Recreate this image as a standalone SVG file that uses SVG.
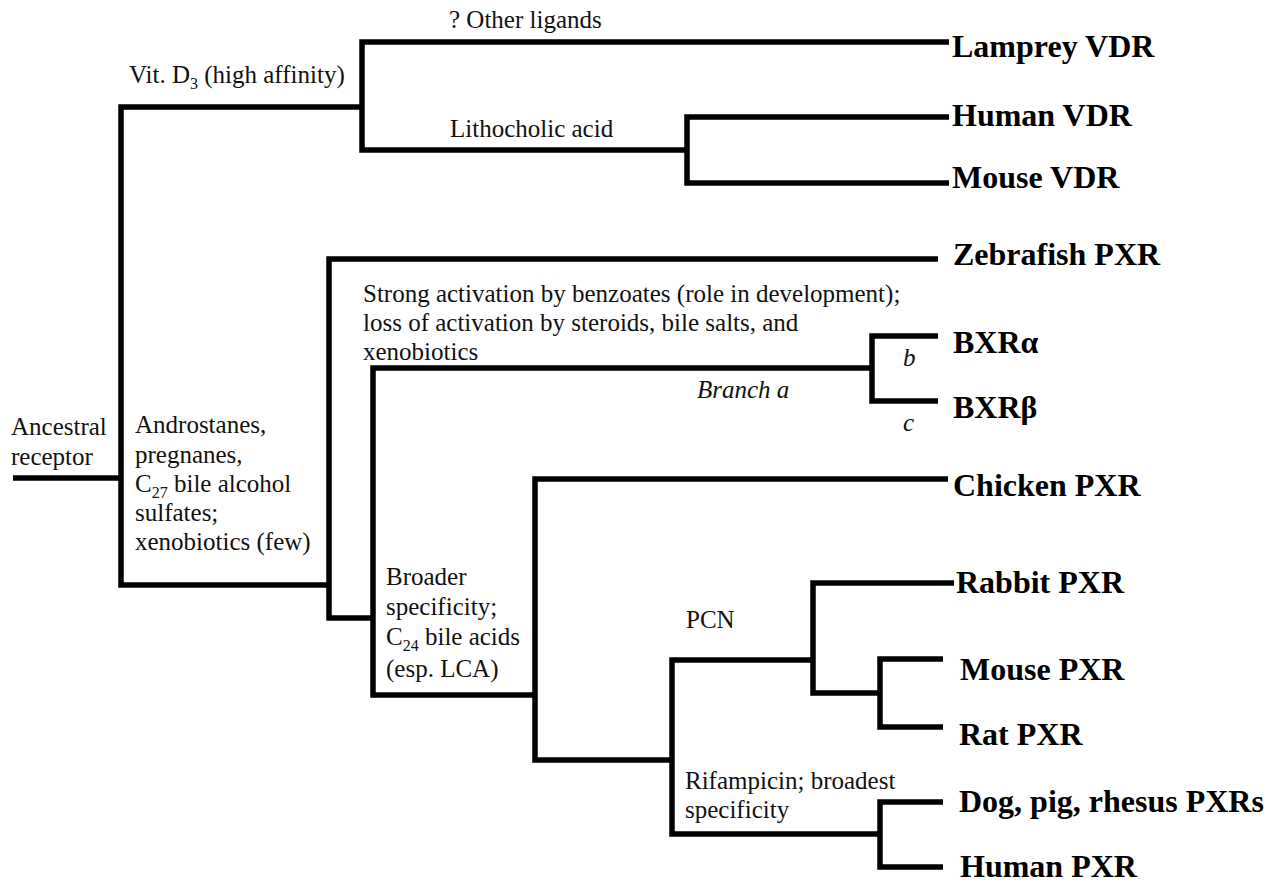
<svg xmlns="http://www.w3.org/2000/svg" width="1286" height="884" viewBox="0 0 1286 884">
<style>
  .ln { fill: none; stroke: #000; stroke-width: 5.5; stroke-linejoin: miter; stroke-linecap: butt; }
  .t { font-family: "Liberation Serif", "Times New Roman", serif; font-size: 25px; fill: #111; }
  .i { font-style: italic; }
  .lb { font-family: "Liberation Serif", "Times New Roman", serif; font-size: 32px; font-weight: bold; fill: #000; }
  .sub { font-size: 16px; }
</style>
<rect width="1286" height="884" fill="#fff"/>
<g id="connectors">
  <path class="ln" d="M13 478 H121"/>
  <path class="ln" d="M362 107 H121 V585 H329"/>
  <path class="ln" d="M949 42 H362 V150 H687"/>
  <path class="ln" d="M949 117 H687 V183 H949"/>
  <path class="ln" d="M938 259 H329 V618 H373"/>
  <path class="ln" d="M872 368 H373 V695 H535"/>
  <path class="ln" d="M938 336 H872 V401 H938"/>
  <path class="ln" d="M948 479 H535 V760 H672"/>
  <path class="ln" d="M813 660 H672 V834 H880"/>
  <path class="ln" d="M954 583 H813 V693 H880"/>
  <path class="ln" d="M943 659 H880 V727 H943"/>
  <path class="ln" d="M943 802 H880 V867 H943"/>
</g>
<g id="branch-labels">
  <text class="t" x="449" y="28">? Other ligands</text>
  <text class="t" x="129" y="83">Vit. D<tspan class="sub" dy="6">3</tspan><tspan dy="-6"> (high affinity)</tspan></text>
  <text class="t" x="450" y="137">Lithocholic acid</text>
  <text class="t" x="363" y="302">Strong activation by benzoates (role in development);</text>
  <text class="t" x="363" y="331">loss of activation by steroids, bile salts, and</text>
  <text class="t" x="363" y="360">xenobiotics</text>
  <text class="t i" x="697" y="398">Branch a</text>
  <text class="t i" x="903" y="366">b</text>
  <text class="t i" x="903" y="431">c</text>
  <text class="t" x="11" y="435">Ancestral</text>
  <text class="t" x="11" y="465">receptor</text>
  <text class="t" x="135" y="433">Androstanes,</text>
  <text class="t" x="135" y="463">pregnanes,</text>
  <text class="t" x="135" y="492">C<tspan class="sub" dy="6">27</tspan><tspan dy="-6"> bile alcohol</tspan></text>
  <text class="t" x="135" y="521">sulfates;</text>
  <text class="t" x="135" y="550">xenobiotics (few)</text>
  <text class="t" x="386" y="585">Broader</text>
  <text class="t" x="386" y="615">specificity;</text>
  <text class="t" x="386" y="645">C<tspan class="sub" dy="6">24</tspan><tspan dy="-6"> bile acids</tspan></text>
  <text class="t" x="386" y="677">(esp. LCA)</text>
  <text class="t" x="686" y="628">PCN</text>
  <text class="t" x="685" y="789">Rifampicin; broadest</text>
  <text class="t" x="685" y="818">specificity</text>
</g>
<g id="lamprey-vdr"><text class="lb" x="952" y="57">Lamprey VDR</text></g>
<g id="human-vdr"><text class="lb" x="952" y="126">Human VDR</text></g>
<g id="mouse-vdr"><text class="lb" x="952" y="188">Mouse VDR</text></g>
<g id="zebrafish-pxr"><text class="lb" x="953" y="265">Zebrafish PXR</text></g>
<g id="bxr-alpha"><text class="lb" x="953" y="353">BXRα</text></g>
<g id="bxr-beta"><text class="lb" x="953" y="418">BXRβ</text></g>
<g id="chicken-pxr"><text class="lb" x="953" y="496">Chicken PXR</text></g>
<g id="rabbit-pxr"><text class="lb" x="956" y="593">Rabbit PXR</text></g>
<g id="mouse-pxr"><text class="lb" x="960" y="680">Mouse PXR</text></g>
<g id="rat-pxr"><text class="lb" x="959" y="745">Rat PXR</text></g>
<g id="dog-pig-rhesus-pxrs"><text class="lb" x="959" y="812">Dog, pig, rhesus PXRs</text></g>
<g id="human-pxr"><text class="lb" x="960" y="877">Human PXR</text></g>
</svg>
